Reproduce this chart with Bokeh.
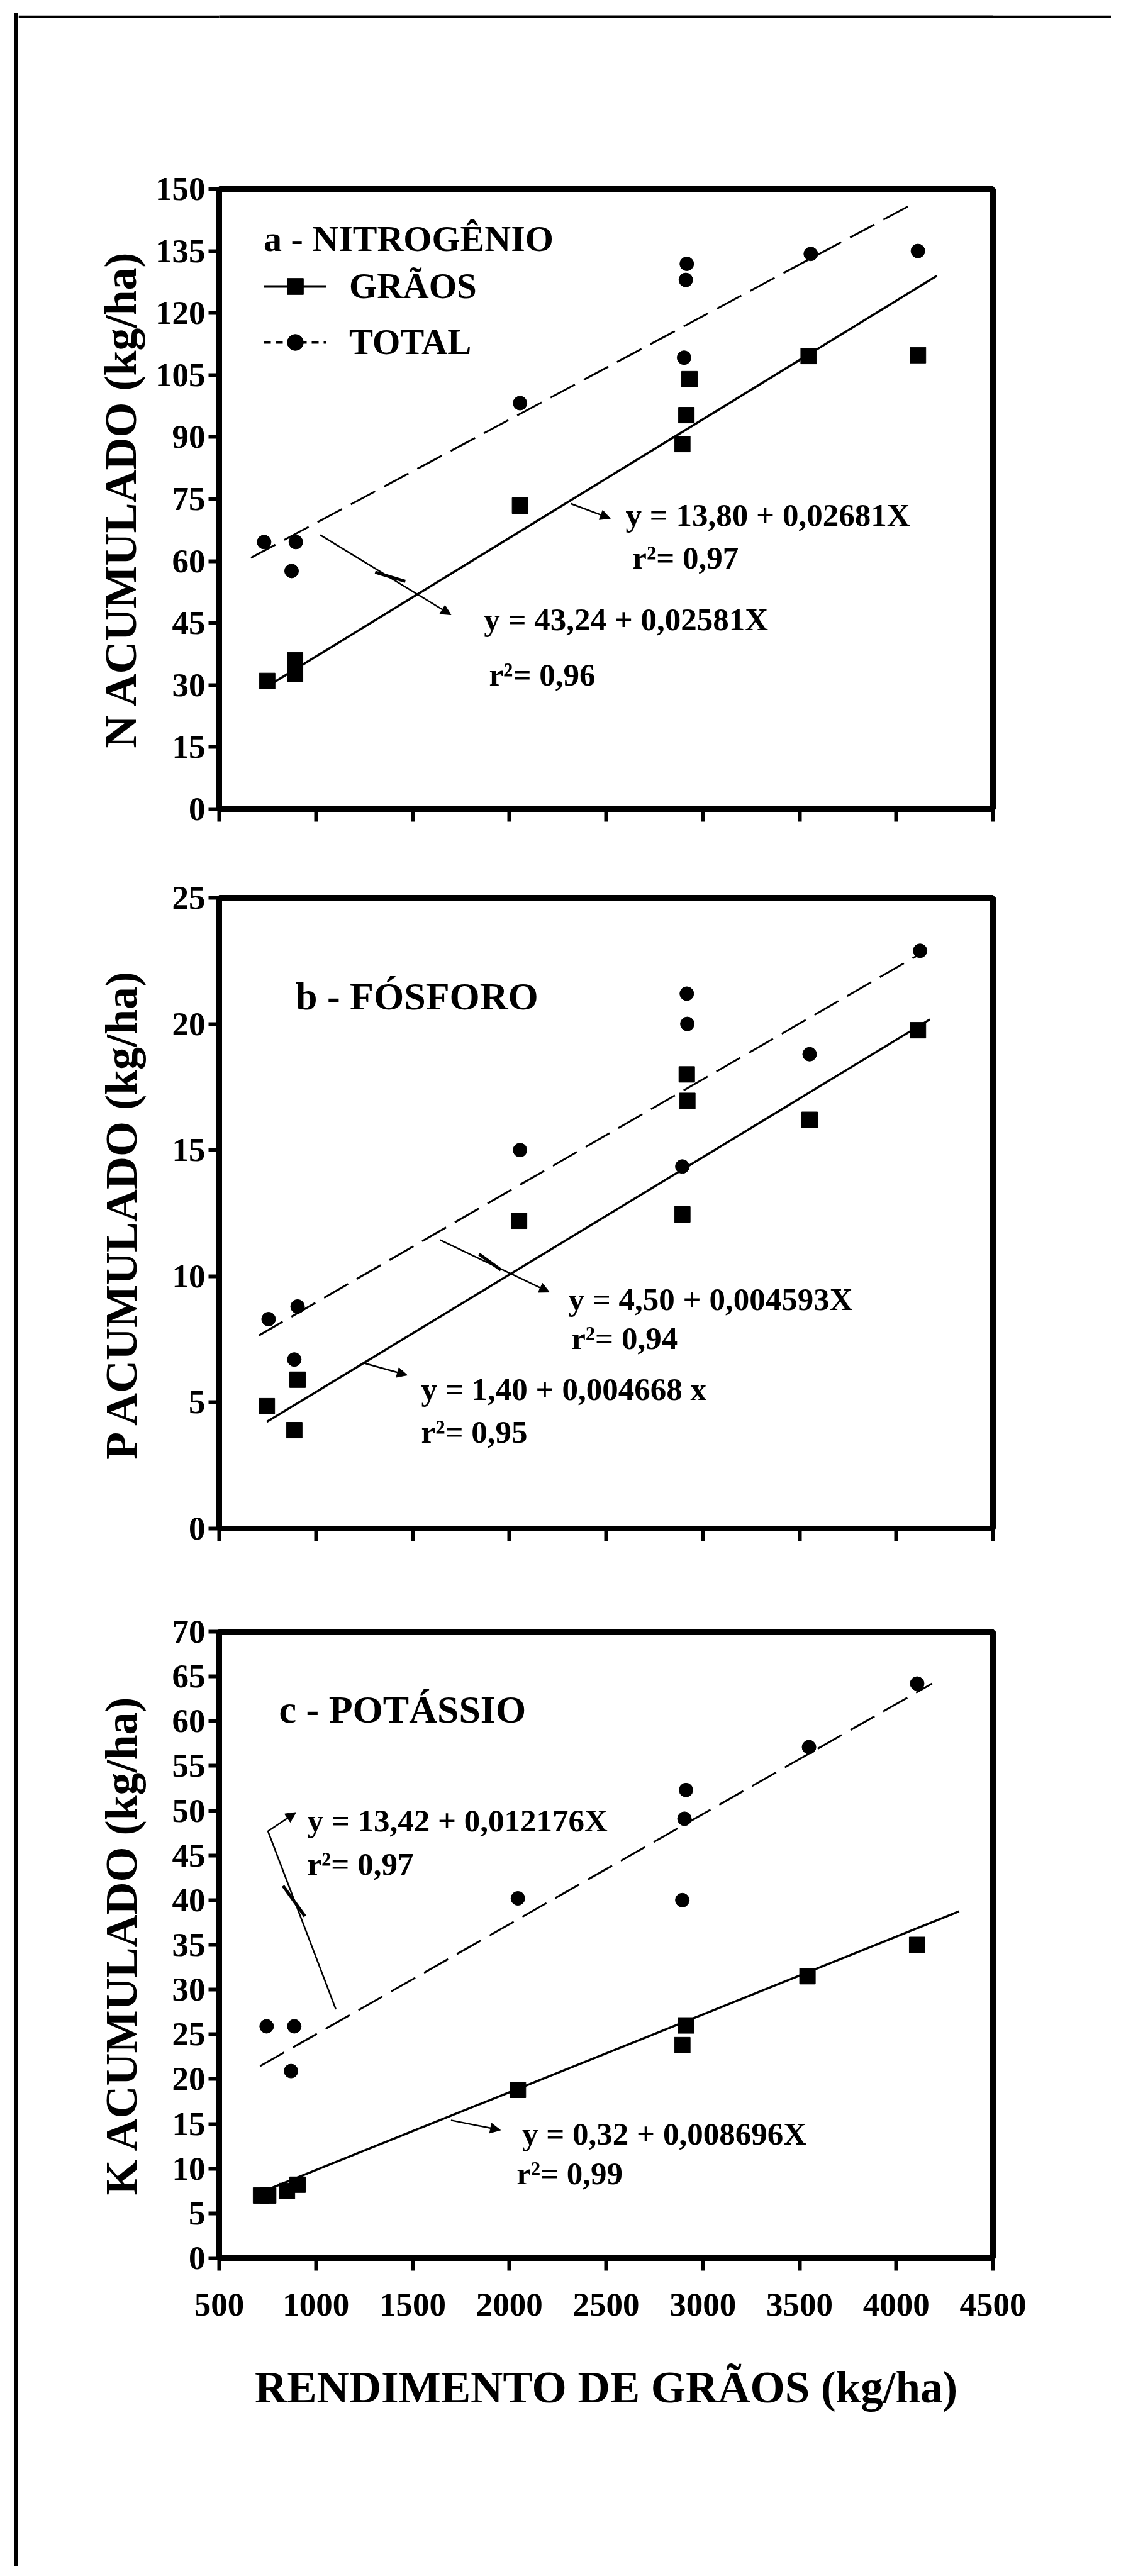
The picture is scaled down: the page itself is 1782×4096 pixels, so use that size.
from bokeh.plotting import figure
from bokeh.models import (Range1d, FixedTicker, Label, Arrow, NormalHead, Legend,
                          LegendItem, Spacer)
from bokeh.layouts import column, row
from bokeh.embed import file_html
from bokeh.resources import INLINE
from bokeh.core.validation import silence
from bokeh.core.validation.warnings import MISSING_RENDERERS

silence(MISSING_RENDERERS, True)

FONT = "Liberation Serif"
NAN = float("nan")

# ---------------- data ----------------
x_ticks = [500, 1000, 1500, 2000, 2500, 3000, 3500, 4000, 4500]
n_ticks = [0, 15, 30, 45, 60, 75, 90, 105, 120, 135, 150]
p_ticks = [0, 5, 10, 15, 20, 25]
k_ticks = [0, 5, 10, 15, 20, 25, 30, 35, 40, 45, 50, 55, 60, 65, 70]

# a - Nitrogen
n_grain_x = [748, 892, 892, 2055, 2931, 2915, 2894, 3547, 4112]
n_grain_y = [31.0, 36.0, 32.7, 73.4, 104.0, 95.3, 88.3, 109.6, 109.8]
n_total_x = [732, 896, 874, 2055, 2917, 2912, 2903, 3558, 4112]
n_total_y = [64.6, 64.6, 57.6, 98.2, 131.9, 128.0, 109.2, 134.3, 135.0]
n_grain_fit_x = [735, 4210]
n_grain_fit_y = [29.3, 129.0]
n_total_fit_x = [664, 4070]
n_total_fit_y = [60.8, 146.0]

# b - Phosphorus
p_total_x = [755, 905, 888, 2055, 2917, 2920, 2894, 3552, 4123]
p_total_y = [8.3, 8.8, 6.7, 15.0, 21.2, 20.0, 14.35, 18.8, 22.9]
p_grain_x = [746, 905, 888, 2050, 2917, 2920, 2894, 3552, 4112]
p_grain_y = [4.85, 5.9, 3.9, 12.2, 18.0, 16.95, 12.45, 16.2, 19.75]
p_total_fit_x = [704, 4118]
p_total_fit_y = [7.65, 22.75]
p_grain_fit_x = [746, 4174]
p_grain_fit_y = [4.23, 20.18]

# c - Potassium
k_total_x = [745, 888, 871, 2044, 2913, 2905, 2894, 3549, 4108]
k_total_y = [25.9, 25.9, 20.9, 40.2, 52.3, 49.1, 40.0, 57.1, 64.2]
k_grain_x = [716, 753, 850, 905, 2044, 2913, 2894, 3541, 4108]
k_grain_y = [7.0, 7.0, 7.5, 8.2, 18.8, 26.0, 23.8, 31.5, 35.0]
k_total_fit_x = [711, 4185]
k_total_fit_y = [21.45, 64.2]
k_grain_fit_x = [691, 4325]
k_grain_fit_y = [7.15, 38.75]

# ---------------- layout constants (px) ----------------
PW = 1737
BL, BR = 319, 188


def make_panel(height, btop, bbottom, yr, yticks, ylabel, ylab_standoff, show_x):
    p = figure(width=PW, height=height, x_range=Range1d(500, 4500),
               y_range=Range1d(*yr), output_backend="svg", toolbar_location=None,
               min_border_left=BL, min_border_right=BR,
               min_border_top=btop, min_border_bottom=bbottom)
    p.grid.visible = False
    p.outline_line_color = "black"
    p.outline_line_width = 9
    p.xaxis.ticker = FixedTicker(ticks=x_ticks)
    p.yaxis.ticker = FixedTicker(ticks=yticks)
    for ax in p.axis:
        ax.axis_line_color = "black"
        ax.axis_line_width = 9
        ax.major_tick_line_color = "black"
        ax.major_tick_line_width = 6
        ax.major_tick_in = 0
        ax.minor_tick_line_color = None
        ax.major_label_text_font = FONT
        ax.major_label_text_font_style = "bold"
        ax.major_label_text_font_size = "53px"
        ax.major_label_text_color = "black"
    p.yaxis.major_tick_out = 17
    p.yaxis.major_label_standoff = 5
    p.xaxis.major_tick_out = 20
    p.xaxis.major_label_standoff = 36
    if not show_x:
        p.xaxis.major_label_text_color = None
    p.yaxis.axis_label = ylabel
    p.yaxis.axis_label_text_font = FONT
    p.yaxis.axis_label_text_font_style = "bold"
    p.yaxis.axis_label_text_font_size = "72px"
    p.yaxis.axis_label_text_color = "black"
    p.yaxis.axis_label_standoff = ylab_standoff
    return p


def add_text(p, x, y, text, size="51px"):
    p.add_layout(Label(x=x, y=y, text=text, text_font=FONT, text_font_style="bold",
                       text_font_size=size, text_color="black",
                       text_baseline="middle", text_align="left"))


def add_arrow(p, x0, y0, x1, y1, head=True, width=2.5):
    p.add_layout(Arrow(x_start=x0, y_start=y0, x_end=x1, y_end=y1,
                       line_color="black", line_width=width,
                       end=NormalHead(size=16, line_color="black", fill_color="black")
                       if head else None))


def draw_series(p, gx, gy, tx, ty, gfx, gfy, tfx, tfy):
    p.line(gfx, gfy, line_color="black", line_width=3.5)
    p.line(tfx, tfy, line_color="black", line_width=3, line_dash="44 16")
    p.scatter(gx, gy, marker="square", size=25, color="black")
    p.scatter(tx, ty, marker="circle", size=22, color="black")


# ---------------- panel a ----------------
p1 = make_panel(1364, 272, 106, (0, 150), n_ticks, "N ACUMULADO (kg/ha)", 12, False)
draw_series(p1, n_grain_x, n_grain_y, n_total_x, n_total_y,
            n_grain_fit_x, n_grain_fit_y, n_total_fit_x, n_total_fit_y)
lg_line = p1.line(x=[NAN], y=[NAN], line_color="black", line_width=4)
lg_sq = p1.scatter(x=[NAN], y=[NAN], marker="square", color="black")
lt_line = p1.line(x=[NAN], y=[NAN], line_color="black", line_width=4, line_dash="11 8")
lt_c = p1.scatter(x=[NAN], y=[NAN], marker="circle", color="black")
leg = Legend(items=[LegendItem(label="GRÃOS", renderers=[lg_line, lg_sq]),
                    LegendItem(label="TOTAL", renderers=[lt_line, lt_c])],
             title="a - NITROGÊNIO", location=(71, 710),
             border_line_color=None, background_fill_alpha=0,
             padding=0, margin=0, glyph_width=100, glyph_height=64,
             label_standoff=36, spacing=24, title_standoff=9,
             label_text_font=FONT, label_text_font_style="bold",
             label_text_font_size="57px", label_text_color="black",
             title_text_font=FONT, title_text_font_style="bold",
             title_text_font_size="58px", title_text_color="black")
p1.add_layout(leg)
add_text(p1, 2601, 71.1, "y = 13,80 + 0,02681X")
add_text(p1, 2636, 60.8, "r²= 0,97")
add_text(p1, 1868, 45.8, "y = 43,24 + 0,02581X")
add_text(p1, 1895, 32.5, "r²= 0,96")
add_arrow(p1, 2317, 73.9, 2522, 70.3)
add_arrow(p1, 1022, 66.3, 1698, 47.0)
add_arrow(p1, 1306, 57.3, 1462, 55.1, head=False, width=5)

# ---------------- panel b ----------------
p2 = make_panel(1160, 35, 122, (0, 25), p_ticks, "P ACUMULADO (kg/ha)", 38, False)
draw_series(p2, p_grain_x, p_grain_y, p_total_x, p_total_y,
            p_grain_fit_x, p_grain_fit_y, p_total_fit_x, p_total_fit_y)
add_text(p2, 895, 21.1, "b - FÓSFORO", "62px")
add_text(p2, 2305, 9.09, "y = 4,50 + 0,004593X")
add_text(p2, 2320, 7.53, "r²= 0,94")
add_text(p2, 1544, 5.52, "y = 1,40 + 0,004668 x")
add_text(p2, 1544, 3.83, "r²= 0,95")
add_arrow(p2, 1642, 11.44, 2207, 9.37)
add_arrow(p2, 1246, 6.56, 1472, 6.08)
add_arrow(p2, 1843, 10.88, 1956, 10.25, head=False, width=5)

# ---------------- panel c ----------------
p3 = make_panel(1528, 42, 490, (0, 70), k_ticks, "K ACUMULADO (kg/ha)", 38, True)
draw_series(p3, k_grain_x, k_grain_y, k_total_x, k_total_y,
            k_grain_fit_x, k_grain_fit_y, k_total_fit_x, k_total_fit_y)
p3.xaxis.axis_label = "RENDIMENTO DE GRÃOS (kg/ha)"
p3.xaxis.axis_label_text_font = FONT
p3.xaxis.axis_label_text_font_style = "bold"
p3.xaxis.axis_label_text_font_size = "71px"
p3.xaxis.axis_label_text_color = "black"
p3.xaxis.axis_label_standoff = 72
add_text(p3, 809, 61.35, "c - POTÁSSIO", "62px")
add_text(p3, 955, 48.85, "y = 13,42 + 0,012176X")
add_text(p3, 955, 44.05, "r²= 0,97")
add_text(p3, 2066, 13.85, "y = 0,32 + 0,008696X")
add_text(p3, 2037, 9.45, "r²= 0,99")
add_arrow(p3, 1103, 27.8, 752, 47.7, head=False)
add_arrow(p3, 752, 47.7, 896, 49.8)
add_arrow(p3, 1698, 15.4, 1954, 14.3)
add_arrow(p3, 830, 41.6, 943, 38.2, head=False, width=5)


# ---------------- outer frame ----------------
def bar(w, h):
    f = figure(width=w, height=h, output_backend="svg", toolbar_location=None,
               x_axis_type=None, y_axis_type=None, min_border=0,
               outline_line_color=None, background_fill_color="black",
               border_fill_color="black")
    f.grid.visible = False
    return f


frame_top = bar(PW, 8)
frame_left = bar(7, 4060)

layout = column(Spacer(width=1766, height=20),
                row(Spacer(width=22, height=4060), frame_left,
                    column(frame_top, p1, p2, p3)))

open("out.html", "w").write(file_html(layout, INLINE, "Acumulado"))
